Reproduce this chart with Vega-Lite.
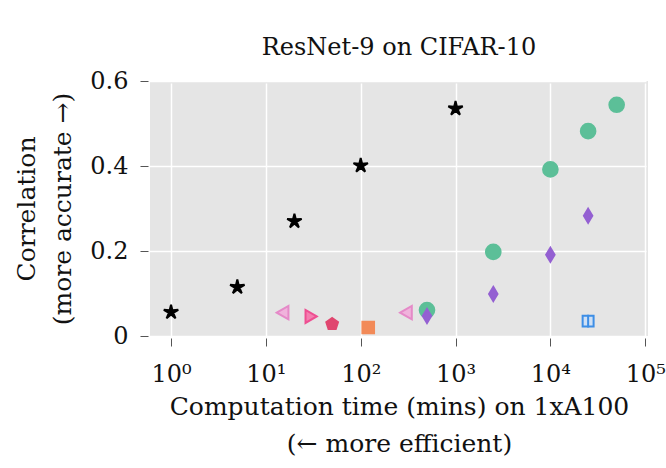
{
  "$schema": "https://vega.github.io/schema/vega-lite/v6.json",
  "autosize": {"type": "none"},
  "padding": {"left": 150, "top": 81, "right": 18, "bottom": 132},
  "width": 498,
  "height": 255,
  "background": "white",
  "title": {
    "text": "ResNet-9 on CIFAR-10",
    "font": "DejaVu Serif",
    "fontSize": 24,
    "fontWeight": "normal",
    "color": "#111",
    "anchor": "middle",
    "offset": 9
  },
  "config": {
    "view": {"fill": "#e5e5e5", "stroke": null},
    "axis": {
      "labelFont": "DejaVu Serif",
      "titleFont": "DejaVu Serif",
      "labelFontSize": 24,
      "titleFontSize": 25,
      "titleFontWeight": "normal",
      "labelColor": "#111",
      "titleColor": "#111",
      "domain": false,
      "grid": true,
      "gridColor": "white",
      "gridWidth": 1.5,
      "tickColor": "#555",
      "tickWidth": 1,
      "tickSize": 8,
      "offset": 2
    }
  },
  "data": {
    "values": [
      {"method": "TRAK", "time": 1, "corr": 0.056},
      {"method": "TRAK", "time": 5, "corr": 0.115},
      {"method": "TRAK", "time": 20, "corr": 0.27},
      {"method": "TRAK", "time": 100, "corr": 0.401},
      {"method": "TRAK", "time": 1000, "corr": 0.535},
      {"method": "Datamodels", "time": 500, "corr": 0.061},
      {"method": "Datamodels", "time": 2500, "corr": 0.198},
      {"method": "Datamodels", "time": 10000, "corr": 0.392},
      {"method": "Datamodels", "time": 25000, "corr": 0.482},
      {"method": "Datamodels", "time": 50000, "corr": 0.544},
      {"method": "Empirical Influence", "time": 500, "corr": 0.047},
      {"method": "Empirical Influence", "time": 2500, "corr": 0.099},
      {"method": "Empirical Influence", "time": 10000, "corr": 0.191},
      {"method": "Empirical Influence", "time": 25000, "corr": 0.283},
      {"method": "TracIn", "time": 15, "corr": 0.055},
      {"method": "TracIn", "time": 300, "corr": 0.055},
      {"method": "Gradient Cosine", "time": 30, "corr": 0.046},
      {"method": "Representation Sim", "time": 50, "corr": 0.028},
      {"method": "Influence Functions", "time": 120, "corr": 0.02},
      {"method": "GAS", "time": 25000, "corr": 0.035, "lo": 0.02, "hi": 0.05}
    ]
  },
  "layer": [
    {
      "mark": {"type": "point", "filled": true, "strokeWidth": 2, "opacity": 1},
      "encoding": {
        "x": {
          "field": "time",
          "type": "quantitative",
          "scale": {"type": "log", "domain": [0.6, 107000], "nice": false},
          "axis": {
            "values": [1, 10, 100, 1000, 10000, 100000],
            "labelExpr": "['10⁰','10¹','10²','10³','10⁴','10⁵'][round(log(datum.value)/LN10)]",
            "title": ["Computation time (mins) on 1xA100", "(← more efficient)"],
            "titleLineHeight": 37,
            "labelPadding": 16,
            "titlePadding": 8
          }
        },
        "y": {
          "field": "corr",
          "type": "quantitative",
          "scale": {"domain": [0, 0.6], "nice": false},
          "axis": {
            "values": [0, 0.2, 0.4, 0.6],
            "labelExpr": "datum.value == 0 ? '0' : format(datum.value, '.1f')",
            "title": ["Correlation", "(more accurate →)"],
            "titleLineHeight": 36,
            "labelPadding": 12,
            "titlePadding": 14
          }
        },
        "color": {
          "field": "method",
          "type": "nominal",
          "legend": null,
          "scale": {
            "domain": ["TRAK", "Datamodels", "Empirical Influence", "TracIn", "Gradient Cosine", "Representation Sim", "Influence Functions", "GAS"],
            "range": ["#000000", "#5cbf98", "#9460d2", "#f0b3dc", "#f47fb0", "#e0466f", "#f28a58", "#cfe0f5"]
          }
        },
        "stroke": {
          "field": "method",
          "type": "nominal",
          "legend": null,
          "scale": {
            "domain": ["TRAK", "Datamodels", "Empirical Influence", "TracIn", "Gradient Cosine", "Representation Sim", "Influence Functions", "GAS"],
            "range": ["#000000", "#5cbf98", "#9460d2", "#e58ac8", "#ee4f92", "#e0466f", "#f28a58", "#3d8ee6"]
          }
        },
        "shape": {
          "field": "method",
          "type": "nominal",
          "legend": null,
          "scale": {
            "domain": ["TRAK", "Datamodels", "Empirical Influence", "TracIn", "Gradient Cosine", "Representation Sim", "Influence Functions", "GAS"],
            "range": [
              "M0,-1L0.18,-0.25L0.951,-0.309L0.29,0.095L0.588,0.809L0,0.31L-0.588,0.809L-0.29,0.095L-0.951,-0.309L-0.18,-0.25Z",
              "circle",
              "M0,-1L0.6,0L0,1L-0.6,0Z",
              "triangle-left",
              "triangle-right",
              "M0,-1L0.951,-0.309L0.588,0.809L-0.588,0.809L-0.951,-0.309Z",
              "square",
              "square"
            ]
          }
        },
        "size": {
          "field": "method",
          "type": "nominal",
          "legend": null,
          "scale": {
            "domain": ["TRAK", "Datamodels", "Empirical Influence", "TracIn", "Gradient Cosine", "Representation Sim", "Influence Functions", "GAS"],
            "range": [230, 120, 150, 110, 110, 100, 90, 110]
          }
        }
      }
    },
    {
      "mark": {"type": "rule", "strokeWidth": 2, "color": "#3d8ee6"},
      "transform": [{"filter": "datum.lo != null"}],
      "encoding": {
        "x": {"field": "time", "type": "quantitative"},
        "y": {"field": "lo", "type": "quantitative"},
        "y2": {"field": "hi"}
      }
    }
  ]
}
